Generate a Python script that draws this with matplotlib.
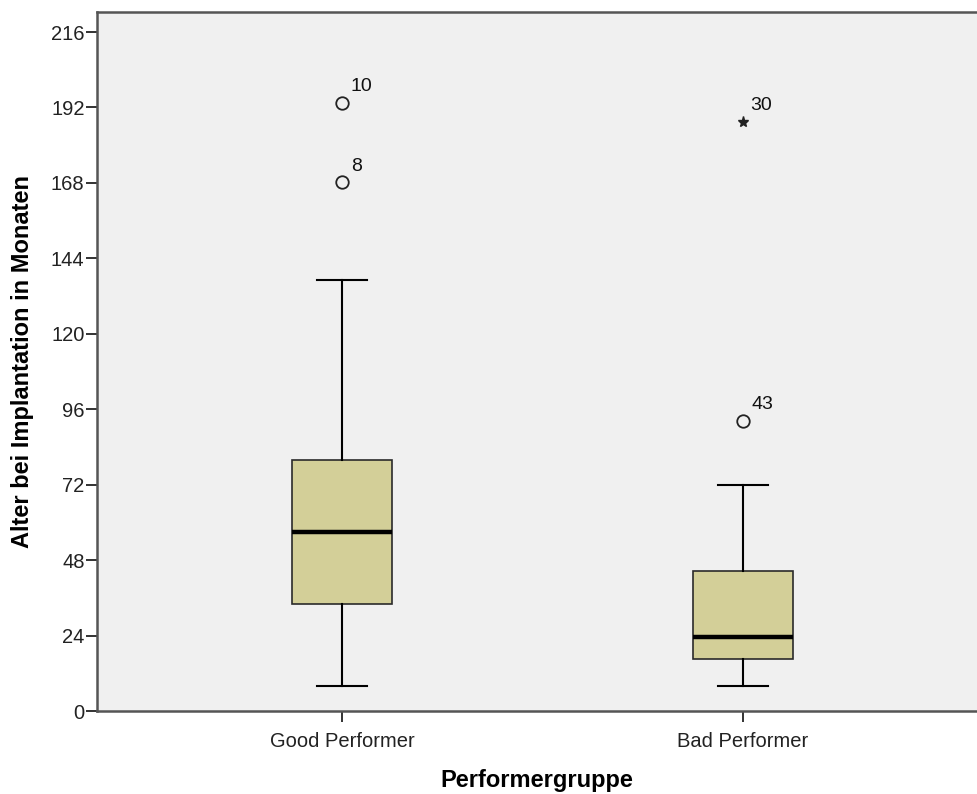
import matplotlib
matplotlib.use("Agg")
import matplotlib.pyplot as plt

plt.rcParams['font.family'] = ['Liberation Sans', 'DejaVu Sans']

groups = ["Good Performer", "Bad Performer"]
whisker_low = [8, 8]
q1 = [34, 16.5]
median = [57, 23.5]
q3 = [80, 44.5]
whisker_high = [137, 72]
outliers = [[193.5, 168.3], [92.3]]
outlier_ids = [["10", "8"], ["43"]]
extremes = [[], [187.4]]
extreme_ids = [[], ["30"]]
yticks = [0, 24, 48, 72, 96, 120, 144, 168, 192, 216]

fig = plt.figure(figsize=(9.77, 7.94), dpi=100)
ax = fig.add_axes([0.0993, 0.1045, 0.9007, 0.8805])
ax.set_facecolor('#f0f0f0')

stats = []
for i, g in enumerate(groups):
    stats.append(dict(label=g, whislo=whisker_low[i], q1=q1[i], med=median[i],
                      q3=q3[i], whishi=whisker_high[i], fliers=[]))

positions = [1, 2]
ax.bxp(stats, positions=positions, widths=0.249, patch_artist=True,
       showfliers=False,
       boxprops=dict(facecolor='#d3cf98', edgecolor='#2a2a2a', linewidth=1.2),
       medianprops=dict(color='black', linewidth=3.2),
       whiskerprops=dict(color='black', linewidth=1.5),
       capprops=dict(color='black', linewidth=1.5),
       capwidths=0.125)

for i, pos in enumerate(positions):
    for v, lab in zip(outliers[i], outlier_ids[i]):
        ax.plot(pos, v, marker='o', markersize=9, markerfacecolor='none',
                markeredgecolor='#222222', markeredgewidth=1.3, linestyle='none')
        ax.annotate(lab, (pos, v), xytext=(6.5, 11.5), textcoords='offset points',
                    ha='left', va='center', fontsize=14, color='#111111')
    for v, lab in zip(extremes[i], extreme_ids[i]):
        ax.plot(pos, v, marker='*', markersize=8, color='#222222', linestyle='none')
        ax.annotate(lab, (pos, v), xytext=(5.5, 11.5), textcoords='offset points',
                    ha='left', va='center', fontsize=14, color='#111111')

ax.set_xlim(0.389, 2.584)
ax.set_ylim(0, 222.4)
ax.set_yticks(yticks)
ax.set_yticklabels([str(t) for t in yticks])
ax.set_xticks(positions)
ax.set_xticklabels(groups)
ax.tick_params(axis='both', labelsize=14.5, colors='#222222', length=8, width=1.3)
ax.tick_params(axis='y', pad=1)
ax.tick_params(axis='x', pad=7)

for side in ['left', 'bottom', 'top']:
    ax.spines[side].set_color('#555555')
    ax.spines[side].set_linewidth(1.8)
ax.spines['right'].set_visible(False)

ax.set_xlabel("Performergruppe", fontsize=17, fontweight='bold', labelpad=13)
ax.set_ylabel("Alter bei Implantation in Monaten", fontsize=17, fontweight='bold', labelpad=12)

fig.savefig("out.png", dpi=100)
